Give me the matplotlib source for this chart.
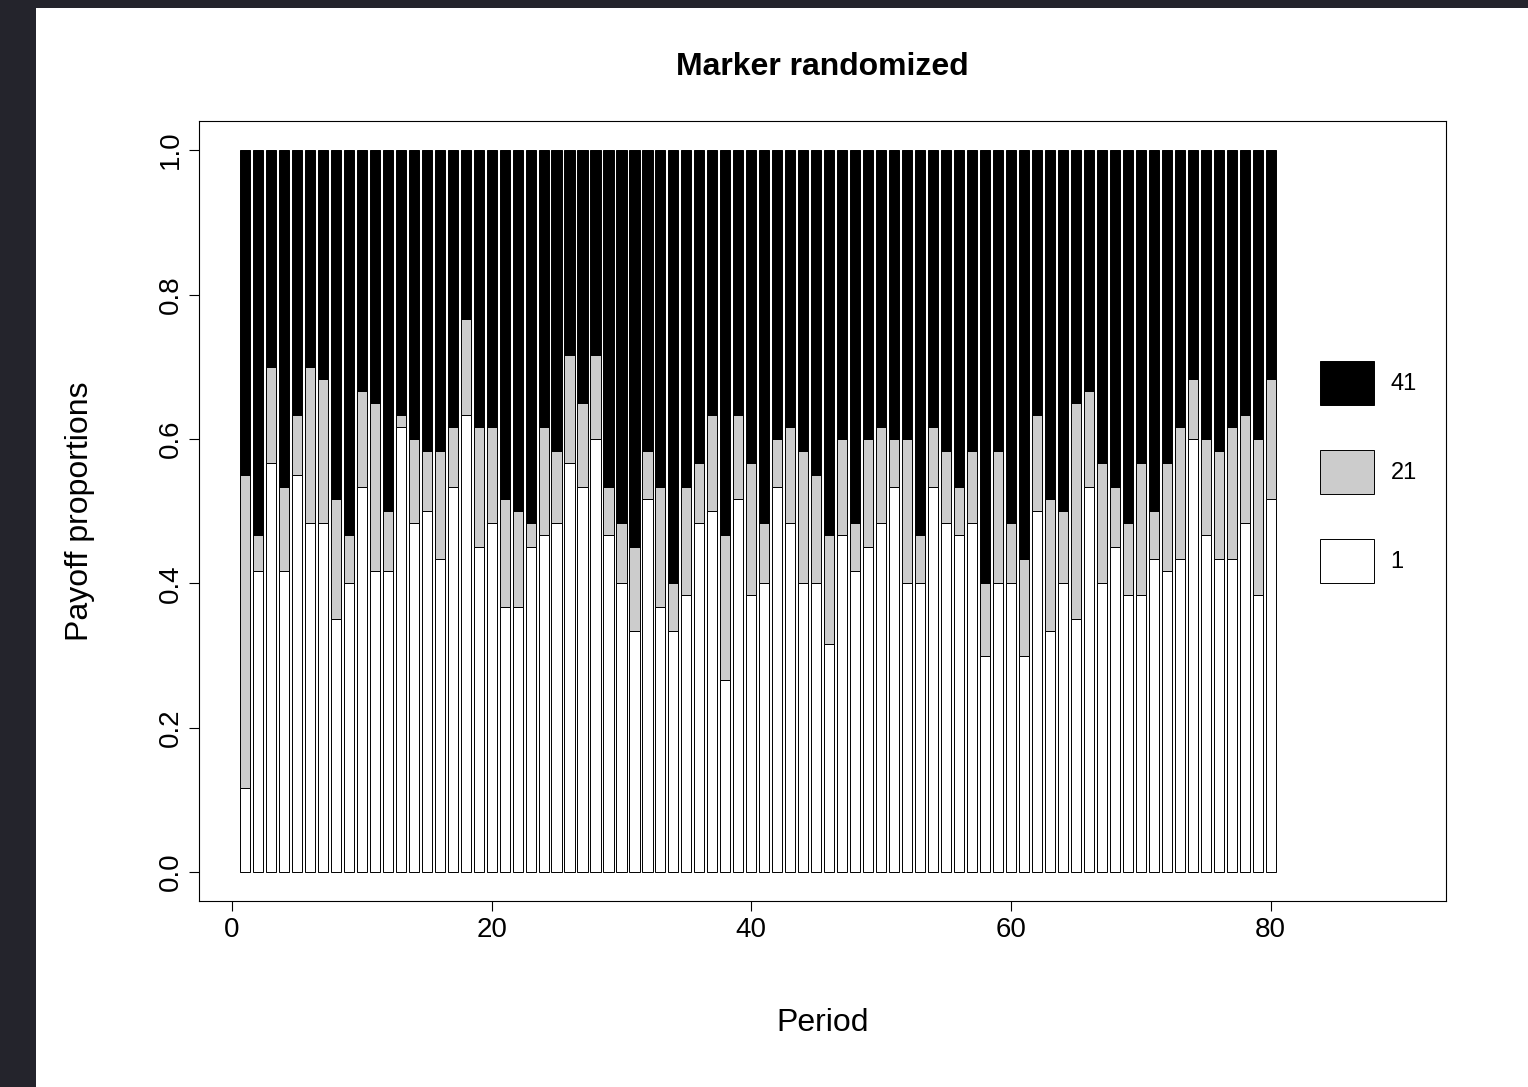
import numpy as np
import matplotlib.pyplot as plt
from matplotlib.patches import Patch, Rectangle

plt.rcParams['font.family'] = ['Liberation Sans', 'DejaVu Sans']

# counts per period (out of 60) for each payoff level
periods = list(range(1, 81))
n_1 = [7, 25, 34, 25, 33, 29, 29, 21, 24, 32,
       25, 25, 37, 29, 30, 26, 32, 38, 27, 29,
       22, 22, 27, 28, 29, 34, 32, 36, 28, 24,
       20, 31, 22, 20, 23, 29, 30, 16, 31, 23,
       24, 32, 29, 24, 24, 19, 28, 25, 27, 29,
       32, 24, 24, 32, 29, 28, 29, 18, 24, 24,
       18, 30, 20, 24, 21, 32, 24, 27, 23, 23,
       26, 25, 26, 36, 28, 26, 26, 29, 23, 31]
n_21 = [26, 3, 8, 7, 5, 13, 12, 10, 4, 8,
        14, 5, 1, 7, 5, 9, 5, 8, 10, 8,
        9, 8, 2, 9, 6, 9, 7, 7, 4, 5,
        7, 4, 10, 4, 9, 5, 8, 12, 7, 11,
        5, 4, 8, 11, 9, 9, 8, 4, 9, 8,
        4, 12, 4, 5, 6, 4, 6, 6, 11, 5,
        8, 8, 11, 6, 18, 8, 10, 5, 6, 11,
        4, 9, 11, 5, 8, 9, 11, 9, 13, 10]
n_41 = [27, 32, 18, 28, 22, 18, 19, 29, 32, 20,
        21, 30, 22, 24, 25, 25, 23, 14, 23, 23,
        29, 30, 31, 23, 25, 17, 21, 17, 28, 31,
        33, 25, 28, 36, 28, 26, 22, 32, 22, 26,
        31, 24, 23, 25, 27, 32, 24, 31, 24, 23,
        24, 24, 32, 23, 25, 28, 25, 36, 25, 31,
        34, 22, 29, 30, 21, 20, 26, 28, 31, 26,
        30, 26, 23, 19, 24, 25, 23, 22, 24, 19]
payoffs = ['1', '21', '41']
colors = ['white', '#cccccc', 'black']

counts = np.array([n_1, n_21, n_41], dtype=float)
props = counts / counts.sum(axis=0)

fig = plt.figure(figsize=(15.28, 10.87), dpi=100, facecolor='#24242c')
fig.patches.append(Rectangle((36 / 1528, 0), 1, 1 - 8 / 1087, transform=fig.transFigure,
                             facecolor='white', edgecolor='none', zorder=-10))
ax = fig.add_axes([0.1304, 0.1711, 0.8159, 0.7173])

bottom = np.zeros(len(periods))
for i in range(3):
    ax.bar(periods, props[i], bottom=bottom, width=0.78, color=colors[i],
           edgecolor='black', linewidth=0.7)
    bottom += props[i]

ax.set_xlim(-2.52, 93.5)
ax.set_ylim(-0.04, 1.04)
ax.set_xticks([0, 20, 40, 60, 80])
ax.set_yticks([0.0, 0.2, 0.4, 0.6, 0.8, 1.0])
ax.set_yticklabels(['0.0', '0.2', '0.4', '0.6', '0.8', '1.0'], rotation=90, va='center')
ax.tick_params(length=7.2, width=0.8, labelsize=20, pad=4)
for s in ax.spines.values():
    s.set_linewidth(0.8)

ax.set_title('Marker randomized', fontsize=23, fontweight='bold', pad=33.5)
ax.set_xlabel('Period', fontsize=23, labelpad=47)
ax.set_ylabel('Payoff proportions', fontsize=23, labelpad=45)

handles = [Patch(facecolor=colors[i], edgecolor='black', linewidth=0.7) for i in [2, 1, 0]]
fig.legend(handles, [payoffs[i] for i in [2, 1, 0]], loc='upper left',
           bbox_to_anchor=(1320 / 1528, 1 - 361 / 1087), frameon=False, fontsize=17,
           handlelength=2.29, handleheight=2.5, labelspacing=1.89, handletextpad=0.7,
           borderpad=0, borderaxespad=0)

fig.savefig('out.png', dpi=100, facecolor=fig.get_facecolor())
